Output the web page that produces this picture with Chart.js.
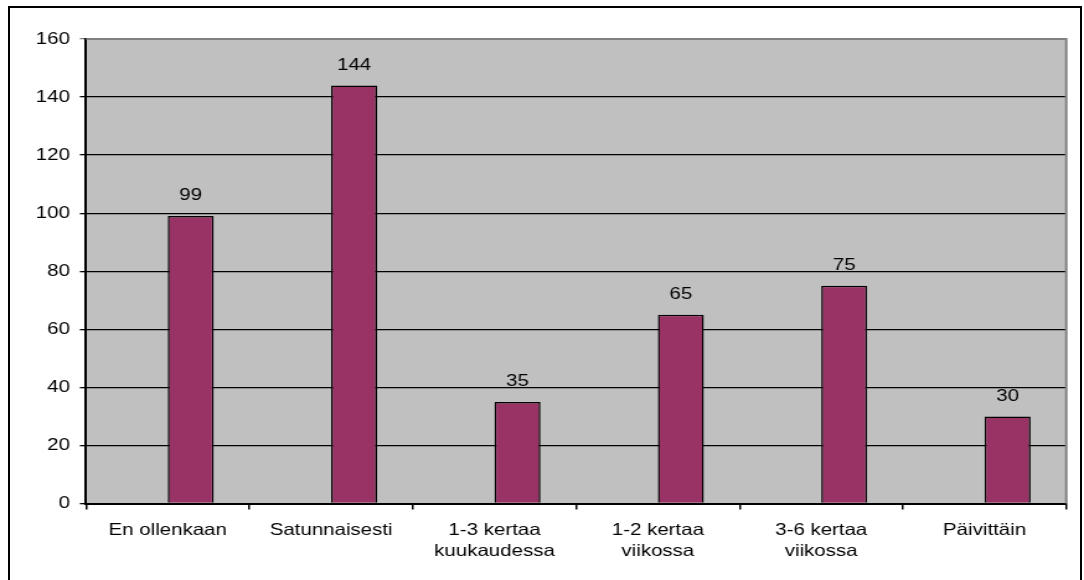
<!DOCTYPE html>
<html>
<head>
<meta charset="utf-8">
<script src="https://cdn.jsdelivr.net/npm/chart.js@4/dist/chart.umd.min.js"></script>
<style>
  html, body { margin: 0; padding: 0; background: #fff; }
  #wrap { position: relative; width: 1084px; height: 580px; overflow: hidden; }
  #frame {
    position: absolute; left: 8px; top: 6px; width: 1074px; height: 600px;
    border: 2px solid #000; box-sizing: border-box;
  }
  /* the chart is drawn on a narrower canvas and stretched to full width */
  #chart {
    position: absolute; left: 0; top: 0;
    width: 1084px !important; height: 580px !important;
  }
</style>
</head>
<body>
<div id="wrap">
  <div id="frame"></div>
  <canvas id="chart" width="874" height="580"></canvas>
</div>
<script>
  const categories = [
    "En ollenkaan",
    "Satunnaisesti",
    ["1-3 kertaa", "kuukaudessa"],
    ["1-2 kertaa", "viikossa"],
    ["3-6 kertaa", "viikossa"],
    "Päivittäin"
  ];
  const answers = [99, 144, 35, 65, 75, 30];
  const spacer = [null, null, null, null, null, null];
  const yTicks = [0, 20, 40, 60, 80, 100, 120, 140, 160];

  const font = { family: "'Liberation Sans', Arial, sans-serif", size: 16.5, lineHeight: 1.3 };

  // gray plot background plus the gray frame on top and right
  const plotArea = {
    id: "plotArea",
    beforeDraw(chart) {
      const { ctx, chartArea: a } = chart;
      ctx.save();
      ctx.fillStyle = "#c0c0c0";
      ctx.fillRect(a.left, a.top, a.right - a.left, a.bottom - a.top);
      ctx.restore();
    },
    afterDatasetsDraw(chart) {
      const { ctx, chartArea: a } = chart;
      ctx.save();
      ctx.strokeStyle = "#808080";
      ctx.lineWidth = 2;
      ctx.beginPath();
      ctx.moveTo(a.left, a.top);
      ctx.lineTo(a.right, a.top);
      ctx.lineTo(a.right, a.bottom);
      ctx.stroke();
      ctx.restore();
    }
  };

  // value printed above each bar
  const valueLabels = {
    id: "valueLabels",
    afterDatasetsDraw(chart) {
      const { ctx } = chart;
      const meta = chart.getDatasetMeta(1);
      ctx.save();
      ctx.fillStyle = "#000";
      ctx.font = font.size + "px " + font.family;
      ctx.textAlign = "center";
      ctx.textBaseline = "bottom";
      meta.data.forEach((bar, i) => {
        ctx.fillText(String(answers[i]), bar.x, bar.y - 12);
      });
      ctx.restore();
    }
  };

  new Chart(document.getElementById("chart"), {
    type: "bar",
    data: {
      labels: categories,
      datasets: [
        { data: spacer },
        {
          data: answers,
          backgroundColor: "#993366",
          borderColor: "#000",
          borderWidth: 1.5
        }
      ]
    },
    options: {
      responsive: false,
      animation: false,
      events: [],
      categoryPercentage: 0.563,
      barPercentage: 1,
      layout: { padding: { top: 39, right: 14.3, left: 0, bottom: 0 } },
      plugins: { legend: { display: false }, tooltip: { enabled: false } },
      scales: {
        x: {
          afterFit(scale) { scale.height = 76.5; },
          grid: {
            offset: true,
            drawOnChartArea: false,
            tickLength: 6,
            color: "#000",
            lineWidth: 1.5
          },
          border: { color: "#000", width: 2 },
          ticks: { color: "#000", font: font, padding: 10, maxRotation: 0, autoSkip: false }
        },
        y: {
          min: 0,
          max: 160,
          afterFit(scale) { scale.width = 69.4; },
          afterBuildTicks(scale) { scale.ticks = yTicks.map(v => ({ value: v })); },
          grid: {
            color: ctx => (ctx.tick && ctx.tick.value === 160 ? "#808080" : "#000"),
            lineWidth: 1.3,
            tickLength: 5
          },
          border: { color: "#000", width: 2 },
          ticks: { color: "#000", font: font, padding: 8 }
        }
      }
    },
    plugins: [plotArea, valueLabels]
  });
</script>
</body>
</html>
